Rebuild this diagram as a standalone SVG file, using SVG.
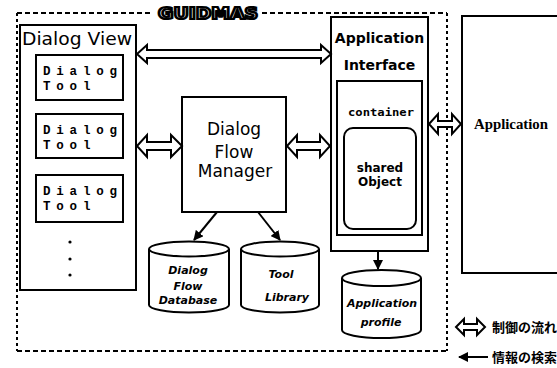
<svg xmlns="http://www.w3.org/2000/svg" width="557" height="368" viewBox="0 0 557 368">
<defs>
<style>
.box{fill:#fff;stroke:#000;stroke-width:2}
.border{fill:none;stroke:#000;stroke-width:2}
.dh{stroke-dasharray:5 3}
.dv{stroke-dasharray:3 3}
.harrow{fill:#fff;stroke:#000;stroke-width:2;stroke-linejoin:miter}
.line{stroke:#000;stroke-width:2;fill:none}
.sans{font-family:"DejaVu Sans","Liberation Sans",sans-serif;fill:#000}
.tool{font-family:"Liberation Mono","DejaVu Sans Mono",monospace;font-weight:bold;font-size:12.5px;letter-spacing:5.8px;fill:#000}
.bold{font-family:"DejaVu Sans","Liberation Sans",sans-serif;font-weight:bold;fill:#000}
.ital{font-family:"DejaVu Sans","Liberation Sans",sans-serif;font-weight:bold;font-style:italic;font-size:11px;fill:#000;text-anchor:middle}
.cjk{font-family:"Noto Sans CJK JP","Noto Sans CJK SC",sans-serif;font-weight:bold;font-size:13px;fill:#000}
</style>
<marker id="ah" markerWidth="10" markerHeight="10" refX="9" refY="5" orient="auto" markerUnits="userSpaceOnUse">
<path d="M0,0 L10,5 L0,10 Z" fill="#000"/>
</marker>
</defs>

<g id="guidmas-border">
<line class="border dh" x1="17" y1="13" x2="153" y2="13"/>
<line class="border dh" x1="262" y1="13" x2="447" y2="13"/>
<line class="border dv" x1="17" y1="13" x2="17" y2="351"/>
<line class="border dv" x1="447" y1="13" x2="447" y2="351"/>
<line class="border dh" x1="17" y1="351" x2="447" y2="351"/>
<text x="158" y="19" font-family="DejaVu Sans, sans-serif" font-weight="bold" font-size="15" textLength="100" lengthAdjust="spacingAndGlyphs" fill="#fff" stroke="#000" stroke-width="2.2">GUIDMAS</text>
</g>

<g id="dialog-view">
<rect class="box" x="20" y="25" width="116" height="265"/>
<text class="sans" x="22" y="45" font-size="18" textLength="110" lengthAdjust="spacingAndGlyphs">Dialog View</text>
<circle cx="70" cy="242" r="1.6"/>
<circle cx="70" cy="259" r="1.6"/>
<circle cx="70" cy="275" r="1.6"/>
</g>

<g id="dialog-tool-1">
<rect class="box" x="36" y="55" width="87" height="45"/>
<text class="tool" x="43" y="75">Dialog</text>
<text class="tool" x="43" y="90">Tool</text>
</g>
<g id="dialog-tool-2">
<rect class="box" x="36" y="114" width="87" height="44"/>
<text class="tool" x="43" y="134">Dialog</text>
<text class="tool" x="43" y="149">Tool</text>
</g>
<g id="dialog-tool-3">
<rect class="box" x="36" y="175" width="87" height="47"/>
<text class="tool" x="43" y="195">Dialog</text>
<text class="tool" x="43" y="210">Tool</text>
</g>

<g id="dialog-flow-manager">
<rect class="box" x="182" y="97" width="104" height="115"/>
<text class="sans" x="234" y="135" font-size="17" text-anchor="middle">Dialog</text>
<text class="sans" x="234" y="158" font-size="17" text-anchor="middle">Flow</text>
<text class="sans" x="235" y="177" font-size="17" text-anchor="middle">Manager</text>
</g>

<g id="application-interface">
<rect class="box" x="331" y="17" width="97" height="234"/>
<text class="bold" x="379.5" y="43" font-size="14" text-anchor="middle">Application</text>
<text class="bold" x="379.5" y="70" font-size="14" text-anchor="middle">Interface</text>
</g>
<g id="container">
<rect class="box" x="337" y="81" width="85" height="154"/>
<text x="381" y="116" font-family="DejaVu Sans Mono, monospace" font-weight="bold" font-size="10.5" text-anchor="middle" textLength="66" lengthAdjust="spacingAndGlyphs">container</text>
</g>
<g id="shared-object">
<rect class="box" x="344" y="128" width="72" height="101" rx="9"/>
<text class="bold" x="380" y="172" font-size="12" text-anchor="middle">shared</text>
<text class="bold" x="380" y="186" font-size="12" text-anchor="middle">Object</text>
</g>

<g id="application">
<rect class="box" x="462" y="16" width="110" height="257"/>
<text x="474" y="129" font-family="Liberation Serif, serif" font-weight="bold" font-size="14" textLength="74" lengthAdjust="spacingAndGlyphs">Application</text>
</g>

<g id="dialog-flow-database">
<path class="box" d="M149,249 A40,7.5 0 0 1 229,249 L229,305 A40,7.5 0 0 1 149,305 Z"/>
<path class="line" d="M149,249 A40,7.5 0 0 0 229,249"/>
<text class="ital" x="188" y="274">Dialog</text>
<text class="ital" x="188" y="290">Flow</text>
<text class="ital" x="188" y="304">Database</text>
</g>
<g id="tool-library">
<path class="box" d="M241,249 A39,7.5 0 0 1 319,249 L319,305 A39,7.5 0 0 1 241,305 Z"/>
<path class="line" d="M241,249 A39,7.5 0 0 0 319,249"/>
<text class="ital" x="281" y="278">Tool</text>
<text class="ital" x="287" y="301">Library</text>
</g>
<g id="application-profile">
<path class="box" d="M342,278 A39.5,8 0 0 1 421,278 L421,330 A39.5,8 0 0 1 342,330 Z"/>
<path class="line" d="M342,278 A39.5,8 0 0 0 421,278"/>
<text class="ital" x="382" y="307" textLength="70" lengthAdjust="spacingAndGlyphs">Application</text>
<text class="ital" x="381" y="326">profile</text>
</g>

<g id="connectors">
<path class="harrow" d="M137,54 L147,45 L147,50 L321,50 L321,45 L331,54 L321,63 L321,58 L147,58 L147,63 Z"/>
<path class="harrow" d="M137,146 L147,135 L147,142 L171,142 L171,135 L182,146 L171,157 L171,150 L147,150 L147,157 Z"/>
<path class="harrow" d="M287,146 L297,135 L297,142 L320,142 L320,135 L330,146 L320,157 L320,150 L297,150 L297,157 Z"/>
<path class="harrow" d="M429,124 L438,114 L438,121 L452,121 L452,114 L461,124 L452,134 L452,127 L438,127 L438,134 Z"/>
<line class="line" x1="217" y1="212" x2="194" y2="240" marker-end="url(#ah)"/>
<line class="line" x1="258" y1="212" x2="280" y2="240" marker-end="url(#ah)"/>
<line class="line" x1="378" y1="251" x2="378" y2="269" marker-end="url(#ah)"/>
</g>

<g id="legend">
<path class="harrow" d="M456,327 L464,319 L464,324 L477,324 L477,319 L485,327 L477,335 L477,330 L464,330 L464,335 Z"/>
<text class="cjk" x="492" y="332">制御の流れ</text>
<line class="line" x1="488" y1="357" x2="459" y2="357" marker-end="url(#ah)"/>
<text class="cjk" x="492" y="362">情報の検索</text>
</g>
</svg>
